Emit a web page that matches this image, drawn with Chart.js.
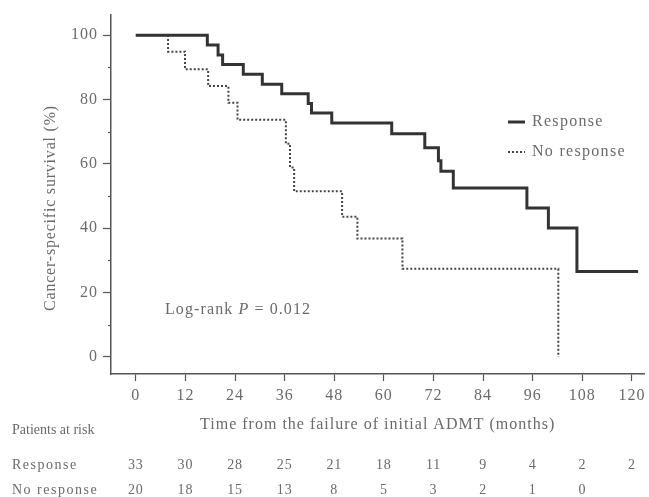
<!DOCTYPE html>
<html>
<head>
<meta charset="utf-8">
<script src="https://cdn.jsdelivr.net/npm/chart.js@4.4.0/dist/chart.umd.min.js"></script>
<style>
  html, body { margin: 0; padding: 0; background: #fff; }
  canvas { display: block; }
</style>
</head>
<body>
<canvas id="km" width="649" height="497"></canvas>
<script>
// Kaplan-Meier steps (months, survival %)
var respTimes = [0, 17.3, 19.9, 21.0, 26.0, 30.6, 35.3, 41.7, 42.5, 47.4, 61.9, 69.9, 73.2, 73.8, 76.8, 94.6, 99.8, 106.7, 121.5];
var respSurv = [100, 97.0, 93.9, 90.9, 87.9, 84.8, 81.8, 78.8, 75.8, 72.7, 69.4, 65.0, 61.0, 57.7, 52.5, 46.3, 40.1, 26.6, 26.6];
var noRespTimes = [0, 7.8, 11.9, 17.5, 22.4, 24.6, 36.3, 37.3, 38.3, 49.9, 53.6, 64.5, 102.2];
var noRespSurv = [100, 94.9, 89.4, 84.2, 79.0, 73.7, 66.3, 58.9, 51.5, 43.6, 36.8, 27.4, 0];

var xTicks = [0, 12, 24, 36, 48, 60, 72, 84, 96, 108, 120];
var yTicks = [0, 20, 40, 60, 80, 100];
var yMinorTicks = [10, 30, 50, 70, 90];

var riskResp = ["33", "30", "28", "25", "21", "18", "11", "9", "4", "2", "2"];
var riskNoResp = ["20", "18", "15", "13", "8", "5", "3", "2", "1", "0", ""];

var FONT = "'Liberation Serif', 'Times New Roman', serif";
var TEXT = "#6a6a6a";
var AXIS = "#555";

function toPoints(xs, ys) {
  return xs.map(function (x, i) { return { x: x, y: ys[i] }; });
}

var extras = {
  id: "kmExtras",
  beforeDraw: function (chart) {
    chart.ctx.letterSpacing = "1px";
  },
  afterDraw: function (chart) {
    var ctx = chart.ctx;
    var area = chart.chartArea;
    var xs = chart.scales.x;
    var ys = chart.scales.y;
    var sets = chart.data.datasets;

    ctx.save();
    // minor y ticks
    ctx.strokeStyle = AXIS;
    ctx.lineWidth = 1.2;
    yMinorTicks.forEach(function (v) {
      var py = Math.round(ys.getPixelForValue(v)) + 0.5;
      ctx.beginPath();
      ctx.moveTo(area.left - 3, py);
      ctx.lineTo(area.left, py);
      ctx.stroke();
    });

    ctx.fillStyle = TEXT;
    ctx.letterSpacing = "0.8px";

    // y axis title
    ctx.save();
    ctx.translate(51, 208);
    ctx.rotate(-Math.PI / 2);
    ctx.font = "16px " + FONT;
    ctx.textAlign = "center";
    ctx.textBaseline = "middle";
    ctx.fillText("Cancer-specific survival (%)", 0, 0);
    ctx.restore();

    // legend
    ctx.font = "16px " + FONT;
    ctx.textAlign = "left";
    ctx.textBaseline = "middle";
    ctx.letterSpacing = "1.3px";
    [122, 152].forEach(function (py, i) {
      var ds = sets[i];
      ctx.save();
      ctx.strokeStyle = ds.borderColor;
      ctx.lineWidth = ds.borderWidth;
      ctx.setLineDash(ds.borderDash || []);
      ctx.beginPath();
      ctx.moveTo(508, py);
      ctx.lineTo(525, py);
      ctx.stroke();
      ctx.restore();
      ctx.fillText(ds.label, 532, py);
    });

    // log-rank annotation
    var lx = 165, ly = 310;
    ctx.font = "16px " + FONT;
    ctx.letterSpacing = "1.1px";
    ctx.fillText("Log-rank ", lx, ly);
    lx += ctx.measureText("Log-rank ").width;
    ctx.font = "italic 16px " + FONT;
    ctx.fillText("P", lx, ly);
    lx += ctx.measureText("P").width;
    ctx.font = "16px " + FONT;
    ctx.fillText(" = 0.012", lx, ly);

    // patients at risk table
    ctx.font = "14px " + FONT;
    ctx.textAlign = "left";
    ctx.letterSpacing = "0px";
    ctx.fillText("Patients at risk", 12, 430);
    ctx.letterSpacing = "1.5px";
    ctx.fillText("Response", 12, 465);
    ctx.fillText("No response", 12, 490);
    ctx.letterSpacing = "0.8px";
    ctx.textAlign = "center";
    xTicks.forEach(function (t, i) {
      var px = xs.getPixelForValue(t);
      ctx.fillText(riskResp[i], px, 465);
      ctx.fillText(riskNoResp[i], px, 490);
    });
    ctx.restore();
  }
};

new Chart(document.getElementById("km"), {
  type: "line",
  data: {
    datasets: [
      {
        label: "Response",
        data: toPoints(respTimes, respSurv),
        borderColor: "#333",
        borderWidth: 3,
        stepped: "before",
        pointRadius: 0,
        fill: false
      },
      {
        label: "No response",
        data: toPoints(noRespTimes, noRespSurv),
        borderColor: "#444",
        borderWidth: 2,
        borderDash: [2, 2],
        stepped: "before",
        pointRadius: 0,
        fill: false
      }
    ]
  },
  options: {
    responsive: false,
    animation: false,
    devicePixelRatio: 1,
    layout: { padding: { top: 15, right: 4, left: 0, bottom: 0 } },
    plugins: { legend: { display: false }, tooltip: { enabled: false } },
    scales: {
      x: {
        type: "linear",
        min: -6,
        max: 123,
        afterFit: function (s) { s.height = 123; },
        afterBuildTicks: function (s) { s.ticks = xTicks.map(function (v) { return { value: v }; }); },
        grid: { drawOnChartArea: false, drawTicks: true, tickLength: 7, tickColor: AXIS, tickWidth: 1.2 },
        border: { color: AXIS, width: 1.5 },
        ticks: { color: TEXT, font: { family: FONT, size: 16 }, padding: 5, maxRotation: 0, autoSkip: false },
        title: {
          display: true,
          text: "Time from the failure of initial ADMT (months)",
          color: TEXT,
          font: { family: FONT, size: 16 },
          padding: { top: 0, bottom: 63 }
        }
      },
      y: {
        type: "linear",
        min: -5.3,
        max: 106.3,
        afterFit: function (s) { s.width = 111; },
        afterBuildTicks: function (s) { s.ticks = yTicks.map(function (v) { return { value: v }; }); },
        grid: { drawOnChartArea: false, drawTicks: true, tickLength: 8, tickColor: AXIS, tickWidth: 1.2 },
        border: { color: AXIS, width: 1.5 },
        ticks: { color: TEXT, font: { family: FONT, size: 16 }, padding: 5 }
      }
    }
  },
  plugins: [extras]
});
</script>
</body>
</html>
